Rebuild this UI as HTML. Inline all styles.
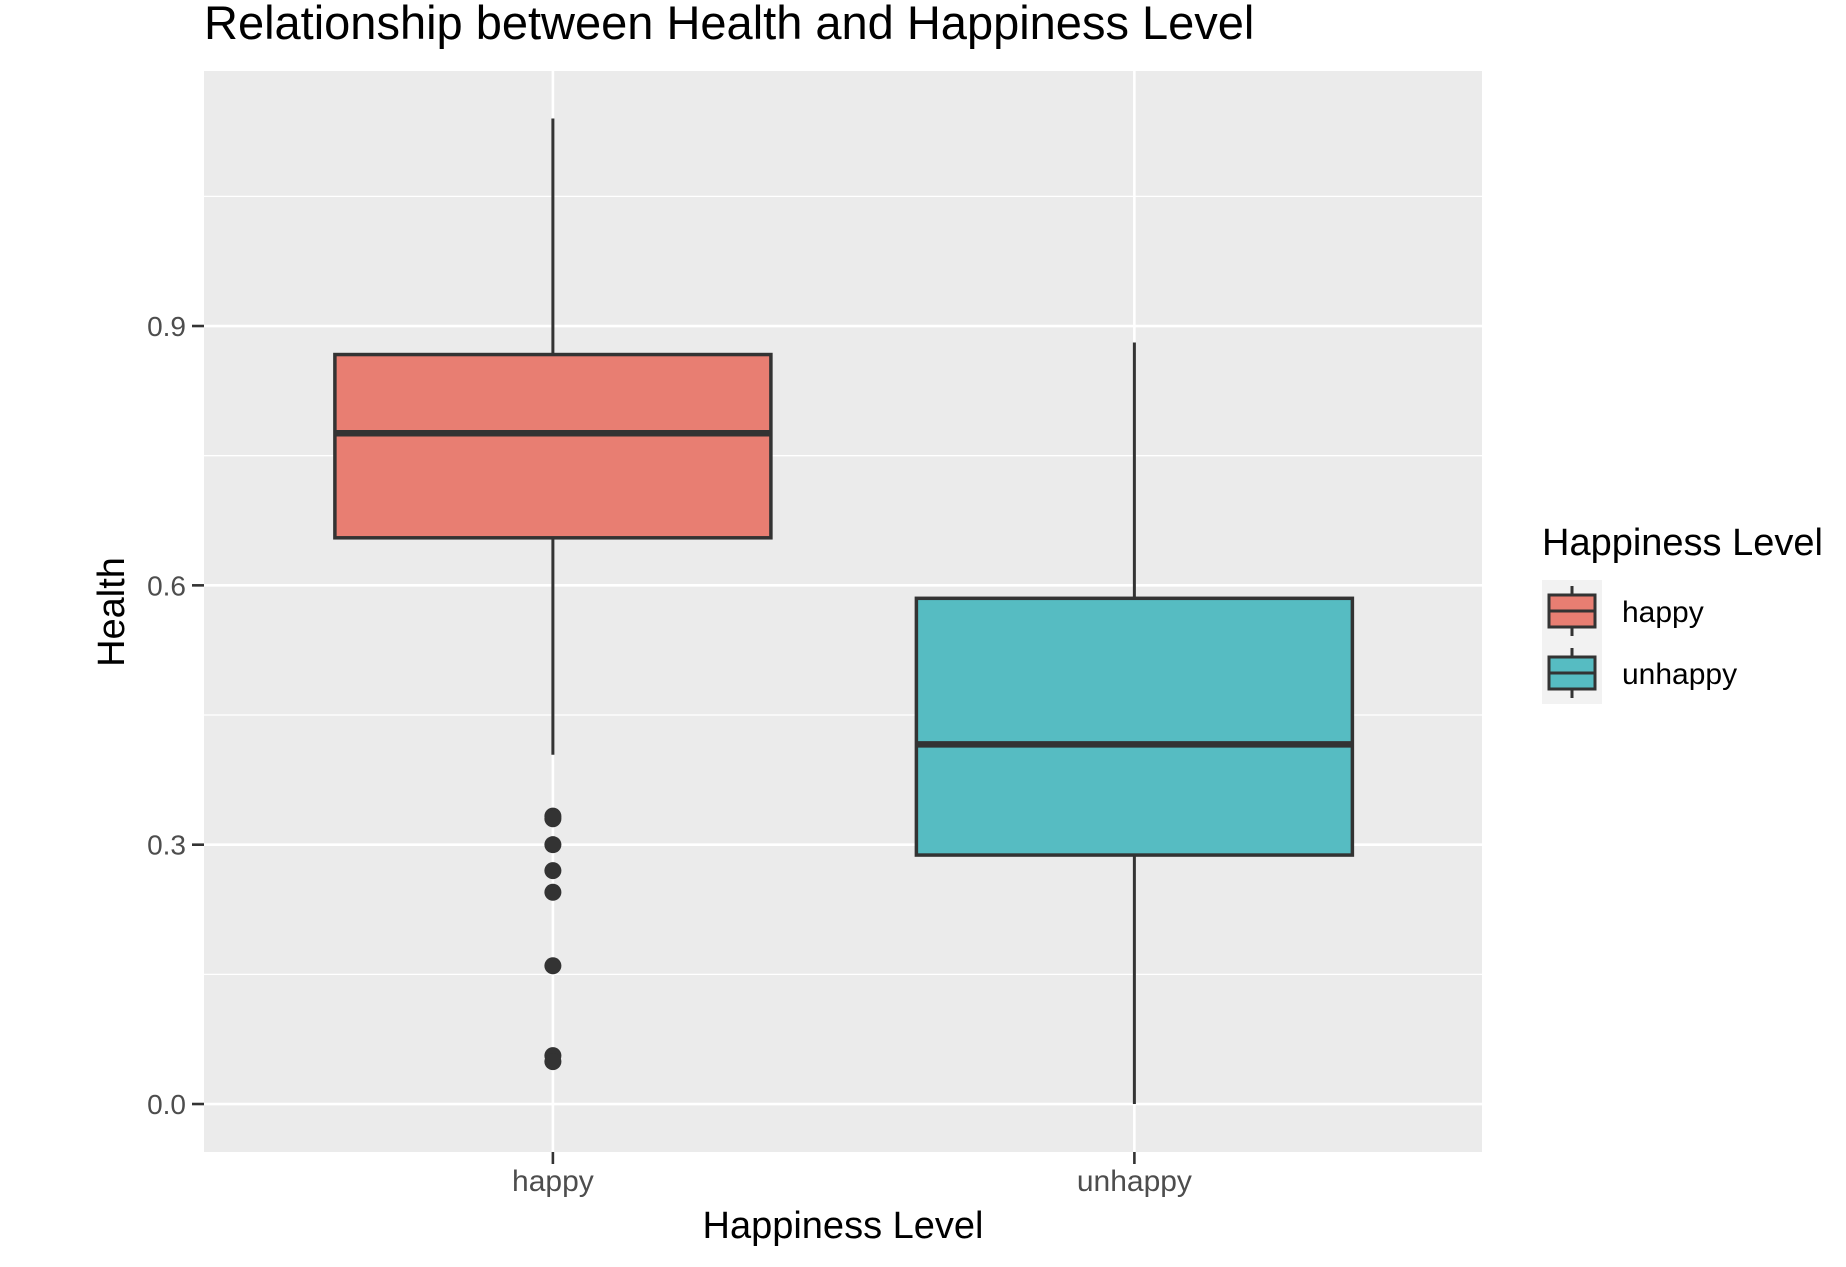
<!DOCTYPE html>
<html><head><meta charset="utf-8"><style>
body{margin:0;background:#fff;}
svg text{font-family:"Liberation Sans",sans-serif;}
</style></head><body>
<svg id="chart" width="1846" height="1262" xmlns="http://www.w3.org/2000/svg">
<rect width="1846" height="1262" fill="#fff"/>
<text x="204" y="39" font-size="47" fill="#000">Relationship between Health and Happiness Level</text>
<rect x="204" y="71" width="1278" height="1081" fill="#ebebeb"/>
<g id="grid"></g>
<g id="marks"></g>
<g id="axes"></g>
<text x="843" y="1238" font-size="38" text-anchor="middle" fill="#000">Happiness Level</text>
<text transform="translate(124,612) rotate(-90)" font-size="38" text-anchor="middle" fill="#000">Health</text>
<g>
<text x="1542" y="555" font-size="38" fill="#000">Happiness Level</text>
<rect x="1542" y="580" width="60" height="124" fill="#f2f2f2"/>
<g>
<line x1="1572" y1="586" x2="1572" y2="636" stroke="#333" stroke-width="3"/>
<rect x="1549" y="595" width="46" height="32" fill="#e87e72" stroke="#333" stroke-width="3"/>
<line x1="1549" y1="611" x2="1595" y2="611" stroke="#333" stroke-width="3"/>
<text x="1622" y="622" font-size="30" fill="#000">happy</text>
</g>
<g>
<line x1="1572" y1="648" x2="1572" y2="698" stroke="#333" stroke-width="3"/>
<rect x="1549" y="657" width="46" height="32" fill="#56bcc2" stroke="#333" stroke-width="3"/>
<line x1="1549" y1="673" x2="1595" y2="673" stroke="#333" stroke-width="3"/>
<text x="1622" y="684" font-size="30" fill="#000">unhappy</text>
</g>
</g>
</svg>
<script>
const categories = ["happy", "unhappy"];
const lowerWhisker = [0.404, 0.0];
const q1 = [0.655, 0.288];
const median = [0.776, 0.416];
const q3 = [0.867, 0.585];
const upperWhisker = [1.140, 0.881];
const outliersHappy = [0.333, 0.330, 0.300, 0.270, 0.245, 0.160, 0.056, 0.049];
const outliersUnhappy = [];
const yTicks = [0.0, 0.3, 0.6, 0.9];
const yTickLabels = ["0.0", "0.3", "0.6", "0.9"];
const yMinor = [0.15, 0.45, 0.75, 1.05];
const fills = ["#e87e72", "#56bcc2"];

const NS = "http://www.w3.org/2000/svg";
const PL = 204, PR = 1482, PT = 71, PB = 1152;
const yMin = -0.0555, yMax = 1.195;
function y(v){ return PB - (v - yMin) / (yMax - yMin) * (PB - PT); }
function x(i){ return PL + (PR - PL) * (0.273 + i * 0.455); }
function mk(tag, attrs, parent){ const e = document.createElementNS(NS, tag); for (const k in attrs) e.setAttribute(k, attrs[k]); parent.appendChild(e); return e; }
const grid = document.getElementById('grid'), marks = document.getElementById('marks'), axes = document.getElementById('axes');
yMinor.forEach(v => {
  const l = mk('line', {x1: PL, x2: PR, y1: y(v), y2: y(v), stroke: '#fff', 'stroke-width': 1.3}, grid);
  
  
});
yTicks.forEach((v, i) => {
  const l = mk('line', {x1: PL, x2: PR, y1: y(v), y2: y(v), stroke: '#fff', 'stroke-width': 2.6}, grid);
  
  
  mk('line', {x1: 192, x2: 204, y1: y(v), y2: y(v), stroke: '#333', 'stroke-width': 2.6}, axes);
  const t = mk('text', {x: 186, y: y(v) + 10, 'font-size': 28, fill: '#4d4d4d', 'text-anchor': 'end'}, axes);
  t.textContent = yTickLabels[i];
  
  
});
const hw = 218;
categories.forEach((c, i) => {
  const cx = x(i);
  const gl = mk('line', {x1: cx, x2: cx, y1: PT, y2: PB, stroke: '#fff', 'stroke-width': 2.6}, grid);
  
  
  mk('line', {x1: cx, x2: cx, y1: PB, y2: PB + 12, stroke: '#333', 'stroke-width': 2.6}, axes);
  const t = mk('text', {x: cx, y: 1191, 'font-size': 30, fill: '#4d4d4d', 'text-anchor': 'middle'}, axes);
  t.textContent = c;
  
  
  const g = mk('g', {}, marks);
  
  
  mk('line', {x1: cx, x2: cx, y1: y(upperWhisker[i]), y2: y(q3[i]), stroke: '#333', 'stroke-width': 3}, g);
  mk('line', {x1: cx, x2: cx, y1: y(q1[i]), y2: y(lowerWhisker[i]), stroke: '#333', 'stroke-width': 3}, g);
  mk('rect', {x: cx - hw, y: y(q3[i]), width: 2 * hw, height: y(q1[i]) - y(q3[i]), fill: fills[i], stroke: '#333', 'stroke-width': 3.5}, g);
  mk('line', {x1: cx - hw, x2: cx + hw, y1: y(median[i]), y2: y(median[i]), stroke: '#333', 'stroke-width': 6.5}, g);
  const outs = i === 0 ? outliersHappy : outliersUnhappy;
  outs.forEach(v => {
    const p = mk('circle', {cx: cx, cy: y(v), r: 8.5, fill: '#333'}, g);
    
    
  });
});
</script>
</body></html>
